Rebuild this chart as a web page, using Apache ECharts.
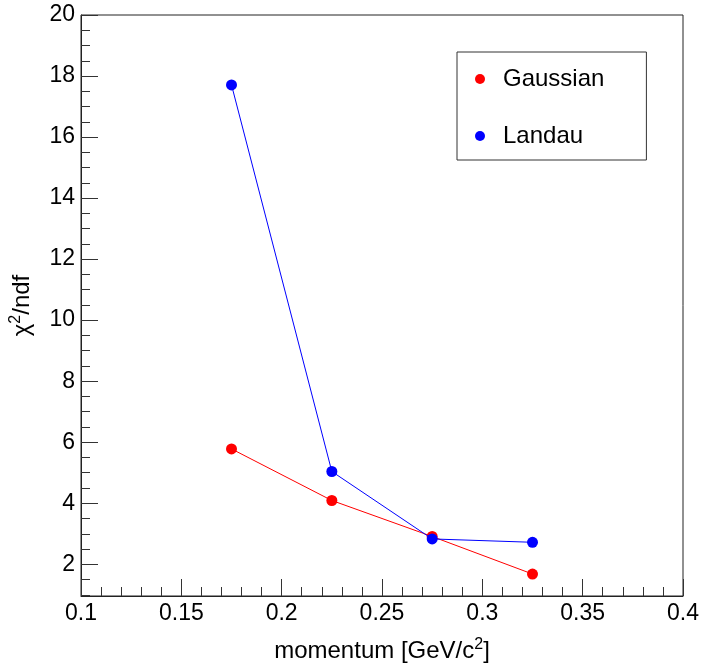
<!DOCTYPE html>
<html>
<head>
<meta charset="utf-8">
<script src="https://cdn.jsdelivr.net/npm/echarts@6/dist/echarts.min.js"></script>
<style>
  html, body { margin: 0; padding: 0; background: #fff; }
  #chart { width: 702px; height: 668px; }
</style>
</head>
<body>
<div id="chart"></div>
<script>
// Momentum bins (GeV/c^2)
const momentum = [0.175, 0.225, 0.275, 0.325];
// Fit quality per bin
const gaussianChi2 = [5.78, 4.09, 2.91, 1.68];
const landauChi2 = [17.71, 5.04, 2.83, 2.72];

const seriesNames = ['Gaussian', 'Landau'];
const seriesColors = ['#ff0000', '#0000ff'];

// Axis ranges and tick marks
const xRange = [0.1, 0.4];
const xStep = 0.05;
const yRange = [0.96, 20];
const yMajorTicks = [2, 4, 6, 8, 10, 12, 14, 16, 18, 20];
const yMinorTicks = [1, 1.5, 2.5, 3, 3.5, 4.5, 5, 5.5, 6.5, 7, 7.5, 8.5, 9, 9.5,
  10.5, 11, 11.5, 12.5, 13, 13.5, 14.5, 15, 15.5, 16.5, 17, 17.5, 18.5, 19, 19.5];

const FONT = '"Liberation Sans", Arial, Helvetica, sans-serif';

function pairs(xs, ys) {
  return xs.map((x, i) => [x, ys[i]]);
}

const chart = echarts.init(document.getElementById('chart'), null, { renderer: 'canvas' });

chart.setOption({
  animation: false,
  backgroundColor: '#ffffff',
  grid: {
    left: 79, top: 15, right: 19, bottom: 72,
    show: true, borderColor: '#222', borderWidth: 1, backgroundColor: 'transparent'
  },
  legend: {
    data: seriesNames,
    orient: 'vertical',
    left: 457, top: 52,
    icon: 'circle',
    itemWidth: 36, itemHeight: 10,
    itemGap: 33,
    padding: [15, 42, 12, 18],
    backgroundColor: '#ffffff',
    borderColor: '#333',
    borderWidth: 1,
    textStyle: { fontFamily: FONT, fontSize: 24, color: '#000' }
  },
  xAxis: {
    type: 'value',
    min: xRange[0], max: xRange[1], interval: xStep,
    name: 'momentum [GeV/c{sup|2}]',
    nameLocation: 'middle',
    nameGap: 41,
    nameTextStyle: {
      fontFamily: FONT, fontSize: 24, color: '#000',
      rich: { sup: { fontFamily: FONT, fontSize: 16, color: '#000', padding: [0, 0, 12, 0] } }
    },
    axisLine: { show: true, lineStyle: { color: '#222', width: 1 } },
    axisTick: { show: true, inside: true, length: 17, lineStyle: { color: '#333' } },
    minorTick: { show: true, splitNumber: 5, length: 9, lineStyle: { color: '#333' } },
    axisLabel: { fontFamily: FONT, fontSize: 23, color: '#000', margin: 6 },
    splitLine: { show: false }
  },
  yAxis: [
    {
      type: 'value',
      min: yRange[0], max: yRange[1],
      name: '\u03c7{sup|2}/ndf',
      nameLocation: 'middle',
      nameGap: 45,
      nameTextStyle: {
        fontFamily: FONT, fontSize: 24, color: '#000',
        rich: { sup: { fontFamily: FONT, fontSize: 16, color: '#000', padding: [0, 0, 12, 0] } }
      },
      axisLine: { show: true, lineStyle: { color: '#222', width: 1 } },
      axisTick: { show: true, inside: true, length: 17, customValues: yMajorTicks, lineStyle: { color: '#333' } },
      axisLabel: { fontFamily: FONT, fontSize: 23, color: '#000', margin: 6, customValues: yMajorTicks },
      splitLine: { show: false }
    },
    {
      type: 'value',
      position: 'left',
      min: yRange[0], max: yRange[1],
      axisLine: { show: false },
      axisTick: { show: true, inside: true, length: 9, customValues: yMinorTicks, lineStyle: { color: '#333' } },
      axisLabel: { show: false },
      splitLine: { show: false }
    }
  ],
  series: seriesNames.map((name, i) => ({
    name: name,
    type: 'line',
    xAxisIndex: 0,
    yAxisIndex: 0,
    data: pairs(momentum, i === 0 ? gaussianChi2 : landauChi2),
    symbol: 'circle',
    symbolSize: 11,
    showSymbol: true,
    itemStyle: { color: seriesColors[i] },
    lineStyle: { color: seriesColors[i], width: 1 },
    z: 2 + i
  }))
});
</script>
</body>
</html>
